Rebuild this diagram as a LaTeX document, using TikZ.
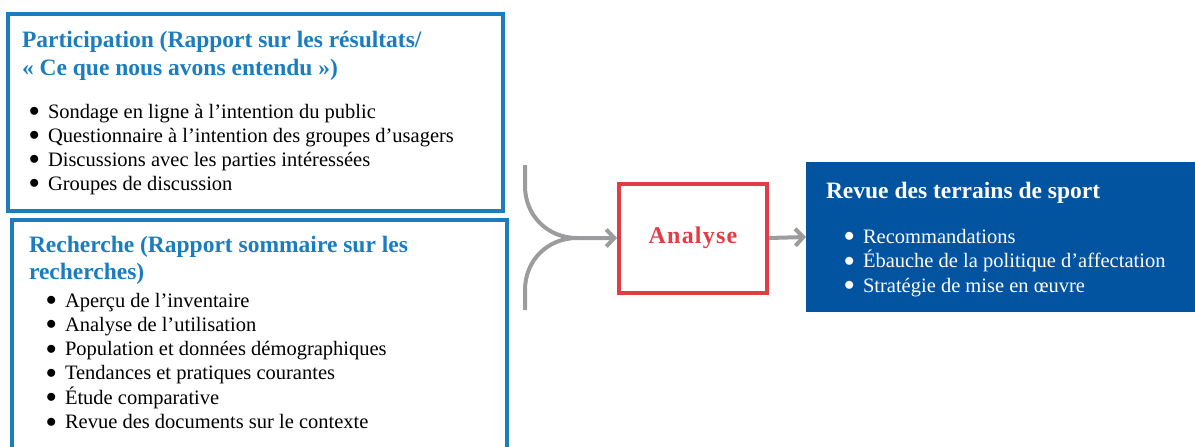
\documentclass[tikz,border=0pt]{standalone}
\usepackage{fontspec}
\setmainfont{Liberation Serif}
\usetikzlibrary{positioning,arrows.meta}
\definecolor{bleuclair}{HTML}{1A7DC0}
\definecolor{bleufonce}{HTML}{0253A0}
\definecolor{rouge}{HTML}{E23D45}
\definecolor{gris}{HTML}{9C9C9E}
\newcommand{\puce}{\makebox[19pt][l]{\raisebox{1.5pt}{$\bullet$}}}

\begin{document}
\begin{tikzpicture}[x=1pt,y=-1pt,
  every node/.style={inner sep=0pt,outer sep=0pt},
  cadre/.style={draw=bleuclair,line width=4pt,minimum width=495pt,anchor=north west},
  titre/.style={anchor=base west,font=\fontsize{23.5}{28}\selectfont\bfseries,text=bleuclair},
  puce/.style={anchor=base west,font=\fontsize{20.5}{24}\selectfont},
  trait/.style={draw=gris,line width=4pt},
  fleche/.style={trait,-{Straight Barb[length=8pt,width=17pt]}}]
  \useasboundingbox (0,0) rectangle (1195,447);
  % boites de gauche
  \node[cadre,minimum height=197pt] (participation) at (8,14) {};
  \node[cadre,minimum height=250pt] (recherche) at (12,220) {};
  \node[titre] (tpart1) at (22,47) {Participation (Rapport sur les résultats/};
  \node[titre] (tpart2) at (22,75) {« Ce que nous avons entendu »)};
  \foreach \t [count=\i] in {{Sondage en ligne à l’intention du public},
      {Questionnaire à l’intention des groupes d’usagers},
      {Discussions avec les parties intéressées},
      {Groupes de discussion}}
    \node[puce] (part\i) at (29,118+24*\i-24) {\puce\t};
  \node[titre] (trech1) at (29,252) {Recherche (Rapport sommaire sur les};
  \node[titre] (trech2) at (29,279) {recherches)};
  \foreach \t [count=\i] in {{Aperçu de l’inventaire},
      {Analyse de l’utilisation},
      {Population et données démographiques},
      {Tendances et pratiques courantes},
      {Étude comparative},
      {Revue des documents sur le contexte}}
    \node[puce] (rech\i) at (46,307+24.3*\i-24.3) {\puce\t};
  % analyse
  \node[draw=rouge,line width=4pt,outer sep=2pt,minimum width=148pt,minimum height=109pt,
    text=rouge,font=\fontsize{24}{28}\selectfont\bfseries\addfontfeature{LetterSpace=5}]
    (analyse) at (693,238) {Analyse};
  % resultat
  \node[fill=bleufonce,minimum width=390pt,minimum height=150pt,anchor=north west]
    (revue) at (806,162) {};
  \node[titre,text=white] (trevue) at (826,198) {Revue des terrains de sport};
  \foreach \t [count=\i] in {{Recommandations},
      {Ébauche de la politique d’affectation},
      {Stratégie de mise en œuvre}}
    \node[puce,text=white] (revue\i) at (844,243+24.5*\i-24.5) {\puce\t};
  % fleches
  \coordinate[left=40pt of analyse.west] (jonction);
  \coordinate (haut) at (525,165);
  \coordinate (bas) at (525,310);
  \draw[fleche] (haut) -- (525,186) .. controls (525,216) and (548,238) .. (jonction) -- (analyse.west);
  \draw[trait] (bas) -- (525,290) .. controls (525,260) and (548,238) .. (jonction);
  \draw[fleche] (analyse.east) -- (revue.west);
\end{tikzpicture}
\end{document}
